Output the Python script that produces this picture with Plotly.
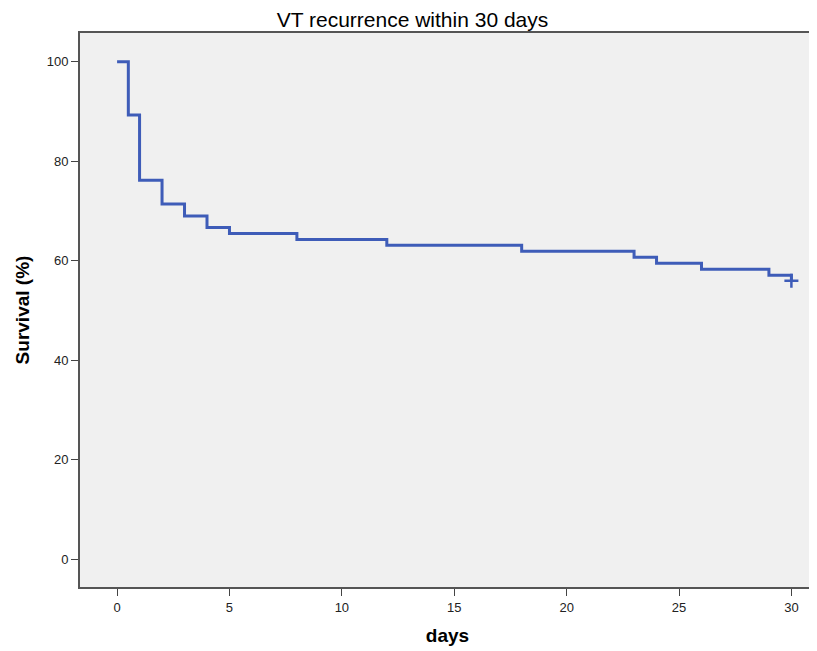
import plotly.graph_objects as go

# Kaplan-Meier steps (n ~ 84)
days = [0, 0.5, 1, 2, 3, 4, 5, 8, 12, 18, 23, 24, 26, 29, 30]
survival = [100, 89.3, 76.2, 71.4, 69.0, 66.7, 65.5, 64.3, 63.1, 61.9, 60.7, 59.5, 58.3, 57.1, 56.0]
censor_days = [30]
censor_surv = [56.0]

xticks = [0, 5, 10, 15, 20, 25, 30]
yticks = [0, 20, 40, 60, 80, 100]

blue = "#3e5cb8"
fnt = "Liberation Sans Narrow, Liberation Sans, Arial, sans-serif"
tfnt = "Liberation Sans, Arial, sans-serif"

fig = go.Figure()
fig.add_trace(go.Scatter(x=days, y=survival, mode="lines",
                         line=dict(color=blue, width=3, shape="hv"),
                         hoverinfo="x+y"))
fig.add_trace(go.Scatter(x=censor_days, y=censor_surv, mode="markers",
                         marker=dict(symbol="cross-thin", size=10,
                                     line=dict(color=blue, width=2.5)),
                         hoverinfo="x+y"))

# page body has an 8px margin, so the figure is a bit smaller than the window
fig.update_layout(
    width=809, height=643,
    margin=dict(l=72, r=0, t=25, b=64),
    paper_bgcolor="white", plot_bgcolor="#f0f0f0",
    showlegend=False,
    title=dict(text="VT recurrence within 30 days", x=0.5, xanchor="center",
               y=0.982, yanchor="middle",
               font=dict(family=tfnt, size=21, color="black")),
)
fig.update_xaxes(range=[-1.65, 31.05], tickvals=xticks, ticks="outside", ticklen=7,
                 tickcolor="#444", showgrid=False, zeroline=False,
                 showline=True, linecolor="#555", linewidth=2, mirror=True,
                 tickfont=dict(family=fnt, size=13, color="#222"),
                 title=dict(text="<b>days</b>", standoff=15,
                            font=dict(family=tfnt, size=19, color="black")))
fig.update_yaxes(range=[-5.6, 105.8], tickvals=yticks, ticks="outside", ticklen=7,
                 tickcolor="#444", showgrid=False, zeroline=False,
                 showline=True, linecolor="#555", linewidth=2, mirror=True,
                 tickfont=dict(family=fnt, size=13, color="#222"),
                 title=dict(text="<b>Survival (%)</b>", standoff=12,
                            font=dict(family=tfnt, size=19, color="black")))

fig.write_html("out.html")
